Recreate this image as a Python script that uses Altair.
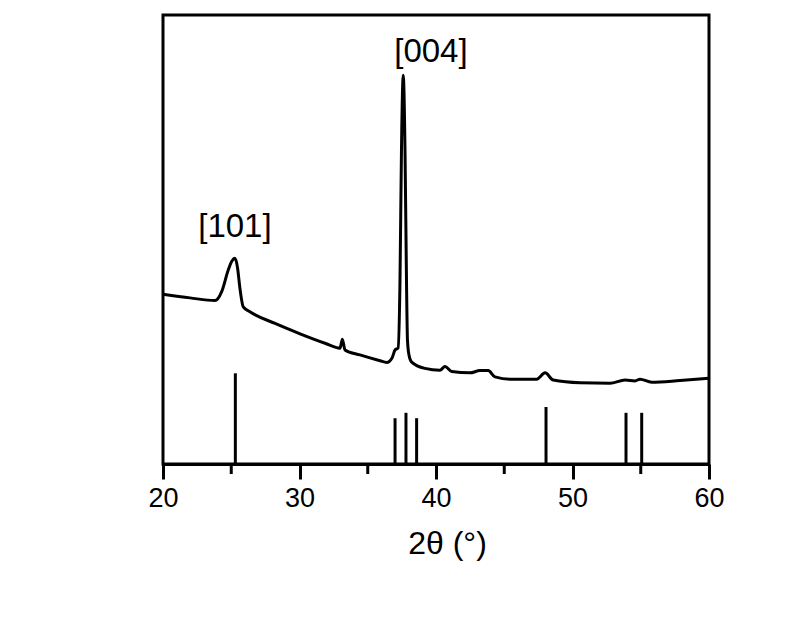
import altair as alt
import pandas as pd

# Measured XRD pattern (2theta in degrees, intensity in arbitrary units)
two_theta = [20.00, 21.98, 23.81, 24.30, 24.78, 25.05, 25.27, 25.47, 25.62, 25.88,
             26.37, 28.21, 30.04, 31.87, 32.97, 33.14, 33.33, 34.43, 35.90, 36.39,
             36.78, 37.00, 37.22, 37.36, 37.47, 37.60, 37.73, 37.84, 37.91, 38.02,
             38.22, 39.19, 40.29, 40.66, 41.15, 42.49, 43.22, 43.83, 44.32, 45.42,
             47.38, 47.99, 48.59, 50.55, 52.75, 53.85, 54.58, 54.95, 55.80, 57.88,
             60.00]
intensity = [37.8, 37.0, 36.4, 38.4, 43.2, 45.2, 45.8, 43.5, 39.5, 35.0,
             33.9, 31.3, 29.0, 26.9, 25.8, 27.8, 25.4, 24.3, 23.0, 22.6,
             23.6, 25.4, 25.8, 40.3, 69.9, 86.6, 69.9, 40.3, 27.6, 24.3,
             22.7, 21.3, 20.9, 21.7, 20.6, 20.3, 20.8, 20.8, 19.4, 18.9,
             18.9, 20.3, 18.7, 18.1, 18.0, 18.7, 18.5, 18.9, 18.2, 18.6,
             19.1]

# Reference (standard) peak positions and relative heights
ref_pos = [25.30, 37.00, 37.80, 38.58, 48.06, 53.92, 55.07]
ref_int = [20.2, 10.2, 11.4, 10.2, 12.7, 11.4, 11.4]

# Peak annotations
ann_text = ["[101]", "[004]"]
ann_x = [25.27, 39.63]
ann_y = [52.8, 91.8]

# Axis ticks
major_ticks = [20, 30, 40, 50, 60]
minor_ticks = [25, 35, 45, 55]

curve = pd.DataFrame({"x": two_theta, "y": intensity})
refs = pd.DataFrame({"x": ref_pos, "y": ref_int, "y0": [0] * len(ref_pos)})
ann = pd.DataFrame({"t": ann_text, "x": ann_x, "y": ann_y})
minor = pd.DataFrame({"x": minor_ticks})

FONT = "Liberation Sans"
W, H = 546, 449

xscale = alt.Scale(domain=[20, 60], nice=False, zero=False)
yscale = alt.Scale(domain=[0, 100], nice=False, zero=False)

major_axis = alt.Axis(
    values=major_ticks, orient="bottom",
    tickSize=15, tickWidth=3, tickColor="black",
    domainWidth=3, domainColor="black",
    grid=False, labelFlush=False,
    labelFont=FONT, labelFontSize=27, labelColor="black", labelPadding=6,
    title="2θ (°)", titleFont=FONT, titleFontSize=32, titleFontWeight="normal",
    titleColor="black", titlePadding=17, titleX=W / 2 + 11, titleAlign="center",
)

line = alt.Chart(curve).mark_line(color="black", strokeWidth=3, interpolate="monotone").encode(
    x=alt.X("x:Q", scale=xscale, axis=major_axis),
    y=alt.Y("y:Q", scale=yscale, axis=None),
)

bars = alt.Chart(refs).mark_rule(color="black", strokeWidth=3).encode(
    x=alt.X("x:Q", scale=xscale),
    y=alt.Y("y0:Q", scale=yscale),
    y2="y:Q",
)

# minor ticks of the bottom axis (shorter than the major ones)
minor_marks = alt.Chart(minor).mark_rule(color="black", strokeWidth=3).encode(
    x=alt.X("x:Q", scale=xscale),
    y=alt.value(H),
    y2=alt.value(H + 10),
)

labels = alt.Chart(ann).mark_text(font=FONT, fontSize=33, color="black",
                                  baseline="middle", align="center").encode(
    x=alt.X("x:Q", scale=xscale),
    y=alt.Y("y:Q", scale=yscale),
    text="t:N",
)

chart = (line + bars + minor_marks + labels).properties(
    width=W, height=H,
    background="white",
    autosize=alt.AutoSizeParams(type="none"),
    padding={"left": 155, "top": 7, "right": 80, "bottom": 150},
).configure_view(stroke="black", strokeWidth=3)

chart.save("out.html", embed_options={"renderer": "svg", "actions": False})
